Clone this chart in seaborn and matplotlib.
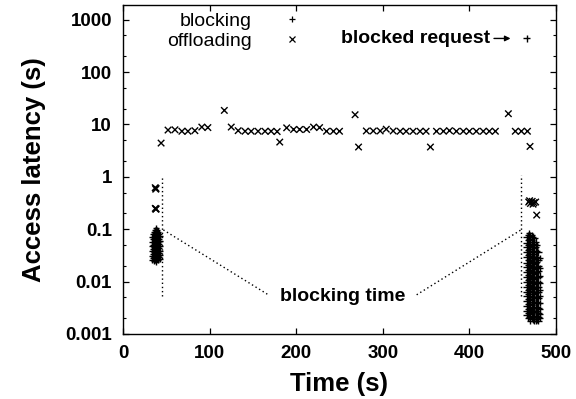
import numpy as np
import pandas as pd
import matplotlib
matplotlib.use("Agg")
import matplotlib.pyplot as plt
from matplotlib.lines import Line2D
from matplotlib.ticker import FixedLocator, NullFormatter, NullLocator
import seaborn as sns

# ---------------- data ----------------
# offloading: steady-state access latency (s) over time (s)
off_time = [44, 52, 60, 68, 75, 83, 91, 98, 117, 125, 133, 141, 148, 156, 164,
            171, 178, 181, 189, 197, 204, 212, 220, 227, 235, 243, 250, 268, 272,
            281, 289, 297, 304, 312, 320, 327, 335, 343, 350, 355, 362, 370, 377,
            385, 393, 400, 408, 416, 423, 430, 445, 453, 460, 467, 470]
off_lat = [4.4, 7.8, 7.9, 7.4, 7.4, 7.6, 8.9, 8.7, 18.5, 8.9, 7.6, 7.4, 7.4, 7.4, 7.4,
           7.4, 7.3, 4.6, 8.6, 8.0, 8.0, 8.0, 8.9, 8.7, 7.4, 7.4, 7.4, 15.3, 3.7,
           7.5, 7.5, 7.5, 8.1, 7.5, 7.4, 7.4, 7.4, 7.4, 7.4, 3.7, 7.4, 7.4, 7.6,
           7.4, 7.4, 7.4, 7.4, 7.4, 7.4, 7.4, 16.0, 7.4, 7.4, 7.4, 3.8]

# offloading points near the blocking phases
off_edge_time = [37.2, 37.8, 38.2, 37.3, 37.9, 38.3,
                 468.5, 469.5, 470.5, 472.5, 473.5, 474.5, 476.5, 477.7]
off_edge_lat = [0.62, 0.58, 0.60, 0.25, 0.24, 0.245,
                0.33, 0.35, 0.31, 0.34, 0.30, 0.32, 0.33, 0.186]

# blocking phase 1 (around 33-43 s)
blk1_time = ([33.5] * 6 + [35] * 6 + [36] * 7 + [37] * 7 + [38] * 8 + [39] * 7
             + [40] * 7 + [41] * 6 + [42.5] * 6)
blk1_lat = [0.072, 0.058, 0.047, 0.038, 0.031, 0.026,
            0.080, 0.064, 0.051, 0.041, 0.034, 0.028,
            0.088, 0.070, 0.056, 0.045, 0.037, 0.030, 0.025,
            0.095, 0.075, 0.060, 0.048, 0.039, 0.032, 0.026,
            0.104, 0.082, 0.065, 0.052, 0.042, 0.034, 0.028, 0.024,
            0.096, 0.077, 0.062, 0.050, 0.040, 0.033, 0.027,
            0.090, 0.072, 0.058, 0.047, 0.038, 0.031, 0.026,
            0.082, 0.066, 0.053, 0.043, 0.035, 0.029,
            0.075, 0.060, 0.048, 0.039, 0.032, 0.027]

# blocking phase 2 (around 465-483 s)
blk2_time = ([466] * 17 + [467.5] * 18 + [469] * 18 + [470.5] * 18 + [472] * 18
             + [473.5] * 18 + [475] * 18 + [476.5] * 17 + [478] * 16 + [479.5] * 14
             + [481] * 10)
blk2_lat = [0.070, 0.055, 0.045, 0.036, 0.029, 0.023, 0.019, 0.015, 0.012, 0.0098,
            0.0079, 0.0064, 0.0052, 0.0042, 0.0034, 0.0028, 0.0023,
            0.078, 0.062, 0.050, 0.040, 0.032, 0.026, 0.021, 0.017, 0.0135, 0.0108,
            0.0087, 0.0070, 0.0057, 0.0046, 0.0037, 0.0030, 0.0025, 0.0020,
            0.085, 0.066, 0.052, 0.041, 0.033, 0.026, 0.021, 0.017, 0.0135, 0.011,
            0.0088, 0.0071, 0.0057, 0.0046, 0.0037, 0.0030, 0.0025, 0.0021,
            0.075, 0.058, 0.047, 0.037, 0.030, 0.024, 0.019, 0.0152, 0.0122, 0.0098,
            0.0079, 0.0063, 0.0051, 0.0041, 0.0033, 0.0027, 0.0022, 0.0018,
            0.078, 0.061, 0.049, 0.039, 0.031, 0.025, 0.020, 0.016, 0.0128, 0.0103,
            0.0083, 0.0067, 0.0054, 0.0044, 0.0035, 0.0029, 0.0024, 0.0020,
            0.072, 0.057, 0.046, 0.036, 0.0285, 0.023, 0.0185, 0.0148, 0.0119, 0.0096,
            0.0077, 0.0062, 0.0050, 0.0040, 0.0032, 0.0026, 0.0021, 0.0019,
            0.068, 0.053, 0.043, 0.034, 0.027, 0.022, 0.0175, 0.014, 0.0113, 0.0091,
            0.0073, 0.0059, 0.0048, 0.0039, 0.0032, 0.0026, 0.0021, 0.0018,
            0.058, 0.046, 0.036, 0.029, 0.023, 0.0185, 0.0148, 0.0118, 0.0094, 0.0076,
            0.0061, 0.0049, 0.0039, 0.0032, 0.0026, 0.0021, 0.0018,
            0.050, 0.038, 0.030, 0.024, 0.019, 0.0152, 0.0122, 0.0098, 0.0078, 0.0063,
            0.0051, 0.0041, 0.0033, 0.0027, 0.0022, 0.0019,
            0.036, 0.026, 0.020, 0.016, 0.0125, 0.0099, 0.0078, 0.0062, 0.0049, 0.0039,
            0.0031, 0.0025, 0.0021, 0.0018,
            0.028, 0.018, 0.013, 0.0095, 0.0070, 0.0052, 0.0039, 0.0030, 0.0024, 0.0020]

# the single blocked request
blocked_time = [466.2]
blocked_lat = [440.0]

# ticks
x_ticks = [0, 100, 200, 300, 400, 500]
x_tick_labels = ["0", "100", "200", "300", "400", "500"]
y_ticks = [0.001, 0.01, 0.1, 1, 10, 100, 1000]
y_tick_labels = ["0.001", "0.01", "0.1", "1", "10", "100", "1000"]
y_minor = [0.002, 0.005, 0.02, 0.05, 0.2, 0.5, 2, 5, 20, 50, 200, 500]

# annotation guide lines (dotted)
vline_left_x = [45.4, 45.4]
vline_left_y = [0.0052, 1.0]
vline_right_x = [459.6, 459.6]
vline_right_y = [0.0052, 1.07]
diag_left_x = [46.6, 167.8]
diag_left_y = [0.097, 0.0056]
diag_right_x = [339.1, 459.6]
diag_right_y = [0.0056, 0.097]

# ---------------- frame ----------------
rows = []
for t, v in zip(off_time + off_edge_time, off_lat + off_edge_lat):
    rows.append((t, v, "offloading"))
for t, v in zip(blk1_time + blk2_time + blocked_time, blk1_lat + blk2_lat + blocked_lat):
    rows.append((t, v, "blocking"))
df = pd.DataFrame(rows, columns=["time", "latency", "kind"])

sns.set_style("ticks")
plt.rcParams["font.family"] = ["Liberation Sans", "DejaVu Sans"]
plt.rcParams["text.color"] = "black"
plt.rcParams["axes.labelcolor"] = "black"
plt.rcParams["xtick.color"] = "black"
plt.rcParams["ytick.color"] = "black"

fig = plt.figure(figsize=(5.76, 3.99), dpi=100)
ax = fig.add_axes([123 / 576, 1 - 334 / 399, (556 - 123) / 576, (334 - 5) / 399])

sns.scatterplot(data=df, x="time", y="latency", hue="kind", style="kind",
                palette={"blocking": "black", "offloading": "black"},
                markers={"blocking": "+", "offloading": "x"},
                s=22, linewidth=1.0, legend=False, ax=ax, zorder=3)

ax.set_yscale("log")
ax.set_xlim(0, 500)
ax.set_ylim(0.001, 1900)

ax.xaxis.set_major_locator(FixedLocator(x_ticks))
ax.set_xticklabels(x_tick_labels)
ax.xaxis.set_minor_locator(NullLocator())
ax.yaxis.set_major_locator(FixedLocator(y_ticks))
ax.set_yticklabels(y_tick_labels)
ax.yaxis.set_minor_locator(FixedLocator(y_minor))
ax.yaxis.set_minor_formatter(NullFormatter())

ax.tick_params(which="major", direction="in", length=4.5, width=0.9,
               top=True, right=True, labelsize=13.5, pad=8,
               colors="black", labelcolor="black")
ax.tick_params(which="minor", direction="in", length=2.3, width=0.8,
               top=True, right=True, colors="black")
for lbl in ax.get_xticklabels() + ax.get_yticklabels():
    lbl.set_fontweight("bold")
    lbl.set_color("black")

for sp in ax.spines.values():
    sp.set_visible(True)
    sp.set_linewidth(1.0)
    sp.set_color("black")

ax.set_xlabel("Time (s)", fontsize=18.5, fontweight="bold", labelpad=7, color="black")
ax.set_ylabel("Access latency (s)", fontsize=18.5, fontweight="bold", labelpad=14,
              color="black")

# dotted guides
dot = dict(color="black", lw=1.0, linestyle=(0, (1, 2)))
ax.plot(vline_left_x, vline_left_y, **dot)
ax.plot(vline_right_x, vline_right_y, **dot)
ax.plot(diag_left_x, diag_left_y, **dot)
ax.plot(diag_right_x, diag_right_y, **dot)

ax.text(253.4, 0.0052, "blocking time", ha="center", va="center",
        fontsize=14, fontweight="bold", color="black")

ax.text(423.8, 437, "blocked request", ha="right", va="center",
        fontsize=14, fontweight="bold", color="black")
ax.annotate("", xy=(447.5, 437), xytext=(428.4, 437),
            arrowprops=dict(arrowstyle="-|>", color="black", lw=1.0,
                            shrinkA=0, shrinkB=0, mutation_scale=8))

handles = [Line2D([], [], ls="none", marker="+", color="black", ms=5, mew=0.9),
           Line2D([], [], ls="none", marker="x", color="black", ms=4.5, mew=0.9)]
leg = ax.legend(handles, ["blocking", "offloading"], loc="upper right",
                bbox_to_anchor=(0.412, 0.979), bbox_transform=ax.transAxes,
                markerfirst=False, frameon=False, fontsize=14, handlelength=1.0,
                handletextpad=1.56, labelspacing=0.15, borderpad=0, borderaxespad=0)
for t in leg.get_texts():
    t.set_color("black")

fig.savefig("out.png", dpi=100)
